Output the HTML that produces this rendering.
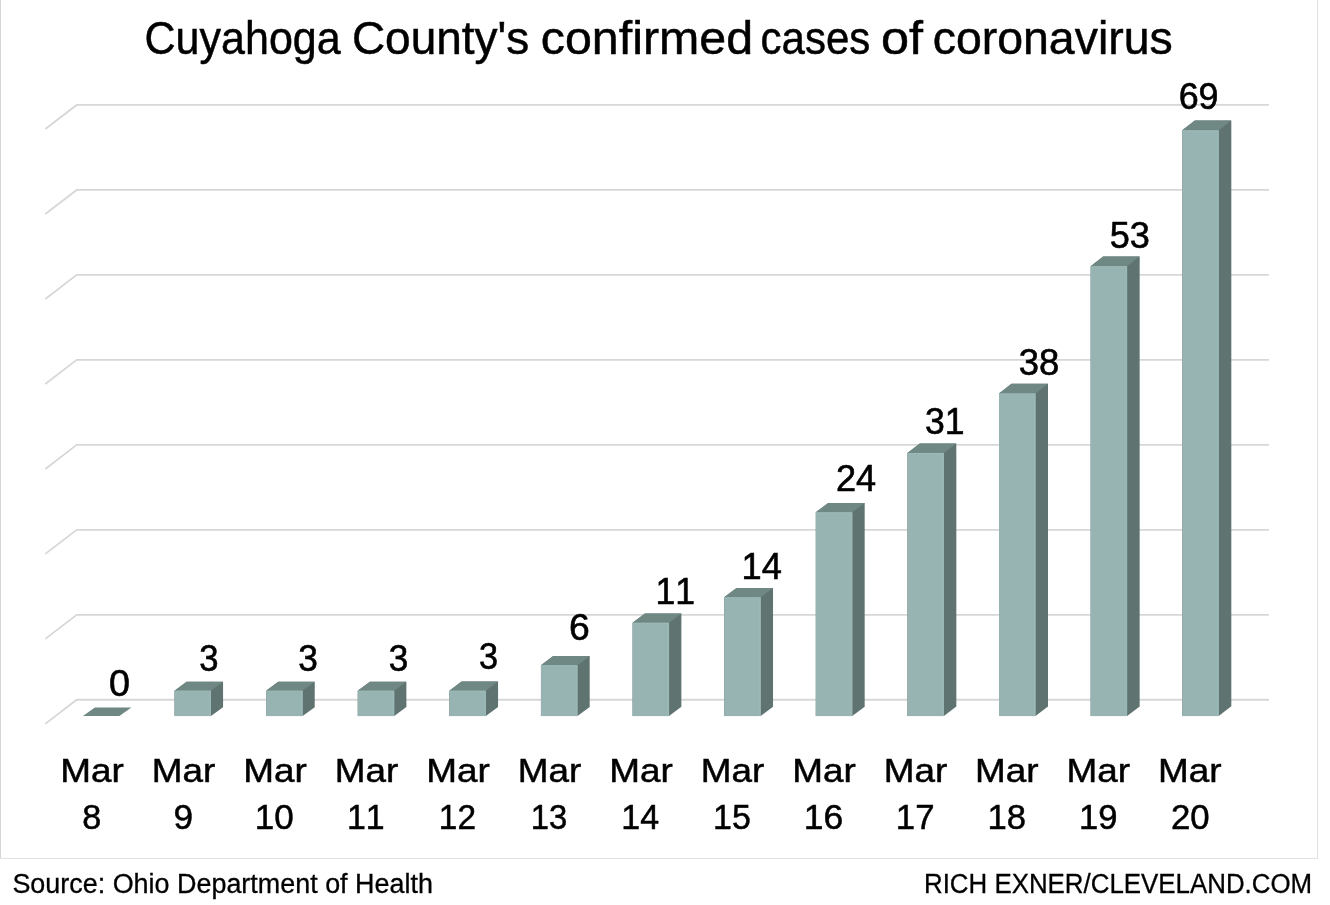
<!DOCTYPE html>
<html><head><meta charset="utf-8"><title>Cuyahoga County confirmed cases of coronavirus</title>
<style>
html,body{margin:0;padding:0;background:#fff;}
body{width:1330px;height:905px;position:relative;overflow:hidden;font-family:"Liberation Sans",sans-serif;}
svg{position:absolute;left:0;top:0;}
text{font-family:"Liberation Sans",sans-serif;fill:#000;font-kerning:none;font-variant-ligatures:none;}
.title{stroke:#000;stroke-width:0.5px;}
.dl{stroke:#000;stroke-width:0.6px;}
.ax{stroke:#000;stroke-width:0.5px;}
.ft{stroke:#000;stroke-width:0.3px;}
svg{will-change:transform;}
</style></head>
<body>
<svg width="1330" height="905" viewBox="0 0 1330 905">
<line x1="0.5" y1="0" x2="0.5" y2="858.5" stroke="#d6d6d6" stroke-width="1"/>
<line x1="1317.5" y1="0" x2="1317.5" y2="858.5" stroke="#e2e2e2" stroke-width="1"/>
<line x1="0" y1="858.5" x2="1318" y2="858.5" stroke="#e2e2e2" stroke-width="1"/>
<g fill="none" stroke="#d7d7d7" stroke-width="1.8"><polyline points="45.3,723.85 76.7,699.75 1269,699.75"/><polyline points="45.3,638.88 76.7,614.78 1269,614.78"/><polyline points="45.3,553.91 76.7,529.81 1269,529.81"/><polyline points="45.3,468.94 76.7,444.84 1269,444.84"/><polyline points="45.3,383.97 76.7,359.87 1269,359.87"/><polyline points="45.3,299.00 76.7,274.90 1269,274.90"/><polyline points="45.3,214.03 76.7,189.93 1269,189.93"/><polyline points="45.3,129.06 76.7,104.96 1269,104.96"/></g>
<g><polygon fill="#708884" points="82.90,716.10 94.90,707.40 131.40,707.40 119.40,716.10"/><polygon fill="#5f7370" points="174.51,716.10 174.51,690.63 186.56,681.84 223.06,681.84 223.06,707.31 211.01,716.10"/><polygon fill="#708884" points="174.51,690.63 186.56,681.84 223.06,681.84 211.01,690.63"/><rect fill="#97b4b3" x="174.51" y="690.63" width="36.50" height="25.47"/><path fill="#9bb8b7" d="M175.11,690.63H211.01V716.10H209.41V691.73H175.11Z"/><polygon fill="#5f7370" points="266.12,716.10 266.12,690.63 278.22,681.75 314.72,681.75 314.72,707.22 302.62,716.10"/><polygon fill="#708884" points="266.12,690.63 278.22,681.75 314.72,681.75 302.62,690.63"/><rect fill="#97b4b3" x="266.12" y="690.63" width="36.50" height="25.47"/><path fill="#9bb8b7" d="M266.72,690.63H302.62V716.10H301.02V691.73H266.72Z"/><polygon fill="#5f7370" points="357.73,716.10 357.73,690.63 369.88,681.65 406.38,681.65 406.38,707.12 394.23,716.10"/><polygon fill="#708884" points="357.73,690.63 369.88,681.65 406.38,681.65 394.23,690.63"/><rect fill="#97b4b3" x="357.73" y="690.63" width="36.50" height="25.47"/><path fill="#9bb8b7" d="M358.33,690.63H394.23V716.10H392.63V691.73H358.33Z"/><polygon fill="#5f7370" points="449.34,716.10 449.34,690.63 461.54,681.56 498.04,681.56 498.04,707.03 485.84,716.10"/><polygon fill="#708884" points="449.34,690.63 461.54,681.56 498.04,681.56 485.84,690.63"/><rect fill="#97b4b3" x="449.34" y="690.63" width="36.50" height="25.47"/><path fill="#9bb8b7" d="M449.94,690.63H485.84V716.10H484.24V691.73H449.94Z"/><polygon fill="#5f7370" points="540.95,716.10 540.95,665.16 553.20,656.00 589.70,656.00 589.70,706.94 577.45,716.10"/><polygon fill="#708884" points="540.95,665.16 553.20,656.00 589.70,656.00 577.45,665.16"/><rect fill="#97b4b3" x="540.95" y="665.16" width="36.50" height="50.94"/><path fill="#9bb8b7" d="M541.55,665.16H577.45V716.10H575.85V666.26H541.55Z"/><polygon fill="#5f7370" points="632.56,716.10 632.56,622.71 644.86,613.46 681.36,613.46 681.36,706.85 669.06,716.10"/><polygon fill="#708884" points="632.56,622.71 644.86,613.46 681.36,613.46 669.06,622.71"/><rect fill="#97b4b3" x="632.56" y="622.71" width="36.50" height="93.39"/><path fill="#9bb8b7" d="M633.16,622.71H669.06V716.10H667.46V623.81H633.16Z"/><polygon fill="#5f7370" points="724.17,716.10 724.17,597.24 736.52,587.90 773.02,587.90 773.02,706.76 760.67,716.10"/><polygon fill="#708884" points="724.17,597.24 736.52,587.90 773.02,587.90 760.67,597.24"/><rect fill="#97b4b3" x="724.17" y="597.24" width="36.50" height="118.86"/><path fill="#9bb8b7" d="M724.77,597.24H760.67V716.10H759.07V598.34H724.77Z"/><polygon fill="#5f7370" points="815.78,716.10 815.78,512.34 828.18,502.90 864.68,502.90 864.68,706.66 852.28,716.10"/><polygon fill="#708884" points="815.78,512.34 828.18,502.90 864.68,502.90 852.28,512.34"/><rect fill="#97b4b3" x="815.78" y="512.34" width="36.50" height="203.76"/><path fill="#9bb8b7" d="M816.38,512.34H852.28V716.10H850.68V513.44H816.38Z"/><polygon fill="#5f7370" points="907.39,716.10 907.39,452.91 919.84,443.38 956.34,443.38 956.34,706.57 943.89,716.10"/><polygon fill="#708884" points="907.39,452.91 919.84,443.38 956.34,443.38 943.89,452.91"/><rect fill="#97b4b3" x="907.39" y="452.91" width="36.50" height="263.19"/><path fill="#9bb8b7" d="M907.99,452.91H943.89V716.10H942.29V454.01H907.99Z"/><polygon fill="#5f7370" points="999.00,716.10 999.00,393.48 1011.50,383.86 1048.00,383.86 1048.00,706.48 1035.50,716.10"/><polygon fill="#708884" points="999.00,393.48 1011.50,383.86 1048.00,383.86 1035.50,393.48"/><rect fill="#97b4b3" x="999.00" y="393.48" width="36.50" height="322.62"/><path fill="#9bb8b7" d="M999.60,393.48H1035.50V716.10H1033.90V394.58H999.60Z"/><polygon fill="#5f7370" points="1090.61,716.10 1090.61,266.13 1103.16,256.42 1139.66,256.42 1139.66,706.39 1127.11,716.10"/><polygon fill="#708884" points="1090.61,266.13 1103.16,256.42 1139.66,256.42 1127.11,266.13"/><rect fill="#97b4b3" x="1090.61" y="266.13" width="36.50" height="449.97"/><path fill="#9bb8b7" d="M1091.21,266.13H1127.11V716.10H1125.51V267.23H1091.21Z"/><polygon fill="#5f7370" points="1182.22,716.10 1182.22,130.29 1194.82,120.49 1231.32,120.49 1231.32,706.30 1218.72,716.10"/><polygon fill="#708884" points="1182.22,130.29 1194.82,120.49 1231.32,120.49 1218.72,130.29"/><rect fill="#97b4b3" x="1182.22" y="130.29" width="36.50" height="585.81"/><path fill="#9bb8b7" d="M1182.82,130.29H1218.72V716.10H1217.12V131.39H1182.82Z"/></g>
<g class="txt"><text class="title" x="144.54" y="54.00" textLength="196.16" lengthAdjust="spacingAndGlyphs" font-size="47">Cuyahoga</text>
<text class="title" x="351.90" y="54.00" textLength="177.46" lengthAdjust="spacingAndGlyphs" font-size="47">County&#39;s</text>
<text class="title" x="540.80" y="54.00" textLength="212.24" lengthAdjust="spacingAndGlyphs" font-size="47">confirmed</text>
<text class="title" x="760.54" y="54.00" textLength="109.73" lengthAdjust="spacingAndGlyphs" font-size="47">cases</text>
<text class="title" x="880.92" y="54.00" textLength="42.05" lengthAdjust="spacingAndGlyphs" font-size="47">of</text>
<text class="title" x="932.67" y="54.00" textLength="240.15" lengthAdjust="spacingAndGlyphs" font-size="47">coronavirus</text>
<text class="dl" x="109.01" y="695.80" textLength="20.98" lengthAdjust="spacingAndGlyphs" font-size="36.5">0</text>
<text class="dl" x="199.35" y="670.70" textLength="19.29" lengthAdjust="spacingAndGlyphs" font-size="36.5">3</text>
<text class="dl" x="298.13" y="671.10" textLength="19.62" lengthAdjust="spacingAndGlyphs" font-size="36.5">3</text>
<text class="dl" x="388.84" y="671.10" textLength="19.51" lengthAdjust="spacingAndGlyphs" font-size="36.5">3</text>
<text class="dl" x="478.96" y="668.90" textLength="19.06" lengthAdjust="spacingAndGlyphs" font-size="36.5">3</text>
<text class="dl" x="568.97" y="640.40" textLength="20.76" lengthAdjust="spacingAndGlyphs" font-size="36.5">6</text>
<text class="dl" x="655.46" y="603.60" textLength="39.55" lengthAdjust="spacingAndGlyphs" font-size="36.5">11</text>
<text class="dl" x="741.62" y="578.70" textLength="40.33" lengthAdjust="spacingAndGlyphs" font-size="36.5">14</text>
<text class="dl" x="836.01" y="491.00" textLength="40.23" lengthAdjust="spacingAndGlyphs" font-size="36.5">24</text>
<text class="dl" x="924.92" y="433.60" textLength="39.59" lengthAdjust="spacingAndGlyphs" font-size="36.5">31</text>
<text class="dl" x="1018.80" y="374.50" textLength="40.55" lengthAdjust="spacingAndGlyphs" font-size="36.5">38</text>
<text class="dl" x="1109.76" y="247.50" textLength="40.17" lengthAdjust="spacingAndGlyphs" font-size="36.5">53</text>
<text class="dl" x="1178.63" y="109.10" textLength="39.90" lengthAdjust="spacingAndGlyphs" font-size="36.5">69</text>
<text class="ax" x="60.34" y="782.30" textLength="63.54" lengthAdjust="spacingAndGlyphs" font-size="34">Mar</text>
<text class="ax" x="82.18" y="829.40" textLength="19.01" lengthAdjust="spacingAndGlyphs" font-size="35">8</text>
<text class="ax" x="151.82" y="782.30" textLength="63.54" lengthAdjust="spacingAndGlyphs" font-size="34">Mar</text>
<text class="ax" x="173.45" y="829.40" textLength="19.59" lengthAdjust="spacingAndGlyphs" font-size="35">9</text>
<text class="ax" x="243.30" y="782.30" textLength="63.54" lengthAdjust="spacingAndGlyphs" font-size="34">Mar</text>
<text class="ax" x="254.67" y="829.40" textLength="38.99" lengthAdjust="spacingAndGlyphs" font-size="35">10</text>
<text class="ax" x="334.78" y="782.30" textLength="63.54" lengthAdjust="spacingAndGlyphs" font-size="34">Mar</text>
<text class="ax" x="347.01" y="829.40" textLength="37.71" lengthAdjust="spacingAndGlyphs" font-size="35">11</text>
<text class="ax" x="426.26" y="782.30" textLength="63.54" lengthAdjust="spacingAndGlyphs" font-size="34">Mar</text>
<text class="ax" x="438.85" y="829.40" textLength="37.15" lengthAdjust="spacingAndGlyphs" font-size="35">12</text>
<text class="ax" x="517.74" y="782.30" textLength="63.54" lengthAdjust="spacingAndGlyphs" font-size="34">Mar</text>
<text class="ax" x="530.76" y="829.40" textLength="36.49" lengthAdjust="spacingAndGlyphs" font-size="35">13</text>
<text class="ax" x="609.22" y="782.30" textLength="63.54" lengthAdjust="spacingAndGlyphs" font-size="34">Mar</text>
<text class="ax" x="621.28" y="829.40" textLength="37.79" lengthAdjust="spacingAndGlyphs" font-size="35">14</text>
<text class="ax" x="700.70" y="782.30" textLength="63.54" lengthAdjust="spacingAndGlyphs" font-size="34">Mar</text>
<text class="ax" x="713.09" y="829.40" textLength="37.77" lengthAdjust="spacingAndGlyphs" font-size="35">15</text>
<text class="ax" x="792.18" y="782.30" textLength="63.54" lengthAdjust="spacingAndGlyphs" font-size="34">Mar</text>
<text class="ax" x="803.89" y="829.40" textLength="39.49" lengthAdjust="spacingAndGlyphs" font-size="35">16</text>
<text class="ax" x="883.66" y="782.30" textLength="63.54" lengthAdjust="spacingAndGlyphs" font-size="34">Mar</text>
<text class="ax" x="895.85" y="829.40" textLength="38.71" lengthAdjust="spacingAndGlyphs" font-size="35">17</text>
<text class="ax" x="975.14" y="782.30" textLength="63.54" lengthAdjust="spacingAndGlyphs" font-size="34">Mar</text>
<text class="ax" x="987.47" y="829.40" textLength="38.60" lengthAdjust="spacingAndGlyphs" font-size="35">18</text>
<text class="ax" x="1066.62" y="782.30" textLength="63.54" lengthAdjust="spacingAndGlyphs" font-size="34">Mar</text>
<text class="ax" x="1079.09" y="829.40" textLength="38.49" lengthAdjust="spacingAndGlyphs" font-size="35">19</text>
<text class="ax" x="1158.10" y="782.30" textLength="63.54" lengthAdjust="spacingAndGlyphs" font-size="34">Mar</text>
<text class="ax" x="1170.93" y="829.40" textLength="38.67" lengthAdjust="spacingAndGlyphs" font-size="35">20</text>
<text class="ft" x="12.40" y="892.60" textLength="420.51" lengthAdjust="spacingAndGlyphs" font-size="27">Source: Ohio Department of Health</text>
<text class="ft" x="923.98" y="892.60" textLength="388.21" lengthAdjust="spacingAndGlyphs" font-size="27">RICH EXNER/CLEVELAND.COM</text></g>
</svg>
</body></html>
